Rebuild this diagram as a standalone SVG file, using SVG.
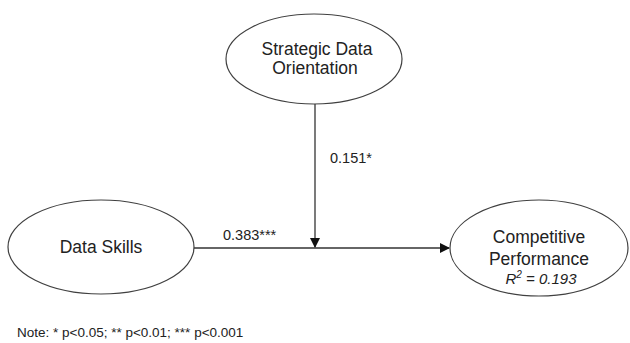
<svg xmlns="http://www.w3.org/2000/svg" width="630" height="343" viewBox="0 0 630 343">
<defs>
<style>
.node{fill:#fff;stroke:#404040;stroke-width:1.2}
.lbl{font-family:"Liberation Sans",Arial,sans-serif;font-size:17.5px;fill:#222;text-anchor:middle}
.coef{font-family:"Liberation Sans",Arial,sans-serif;font-size:14.5px;fill:#222}
.edge{stroke:#333;stroke-width:1.3;fill:none}
</style>
<marker id="arr" markerWidth="10" markerHeight="10" refX="9" refY="5" orient="auto" markerUnits="userSpaceOnUse">
<path d="M0,0 L10,5 L0,10 Z" fill="#111"/>
</marker>
</defs>
<rect width="630" height="343" fill="#fff"/>
<g id="connectors">
<line class="edge" x1="194" y1="248" x2="449" y2="248" marker-end="url(#arr)"/>
<line class="edge" x1="315" y1="104" x2="315" y2="247" marker-end="url(#arr)"/>
</g>
<g id="sdo">
<ellipse class="node" cx="314" cy="59" rx="88" ry="45"/>
<text class="lbl" x="317" y="55">Strategic Data</text>
<text class="lbl" x="315" y="74">Orientation</text>
</g>
<g id="ds">
<ellipse class="node" cx="101" cy="247" rx="93" ry="47"/>
<text class="lbl" x="101" y="253">Data Skills</text>
</g>
<g id="cp">
<ellipse class="node" cx="539" cy="248" rx="89" ry="48"/>
<text class="lbl" x="539" y="243">Competitive</text>
<text class="lbl" x="539" y="265">Performance</text>
<text class="lbl" x="541" y="284" style="font-style:italic;font-size:15px">R<tspan dy="-6" font-size="10">2</tspan><tspan dy="6"> = 0.193</tspan></text>
</g>
<g id="labels">
<text class="coef" x="330" y="163">0.151*</text>
<text class="coef" x="223" y="240">0.383***</text>
<text class="coef" x="17" y="337" style="font-size:13.5px">Note: * p&lt;0.05; ** p&lt;0.01; *** p&lt;0.001</text>
</g>
</svg>
